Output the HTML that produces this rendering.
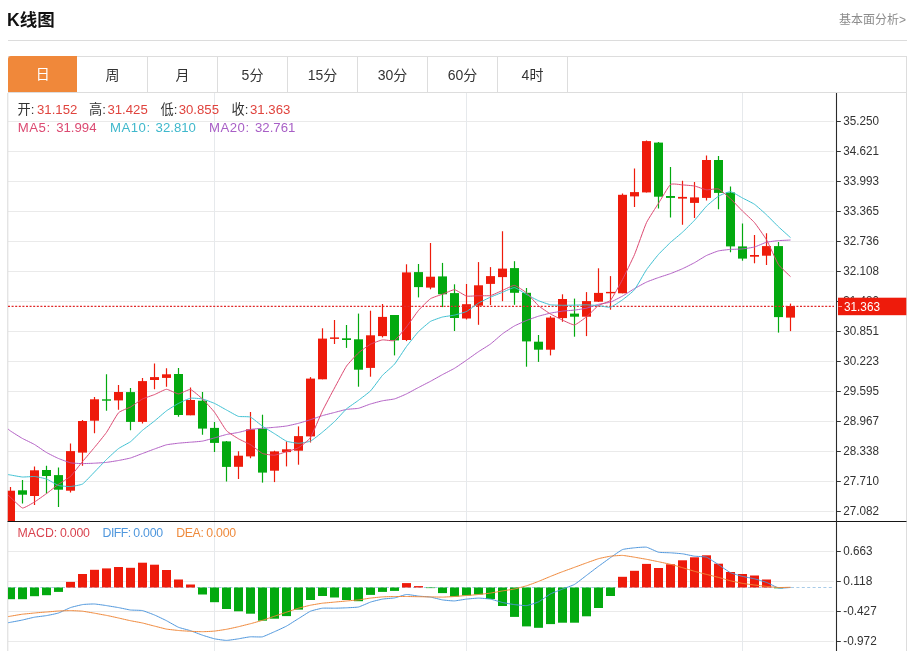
<!DOCTYPE html>
<html lang="zh-CN">
<head>
<meta charset="utf-8">
<title>K线图</title>
<style>
html,body{margin:0;padding:0;background:#fff;}
body{width:911px;height:651px;position:relative;overflow:hidden;font-family:"Liberation Sans","Noto Sans CJK SC",sans-serif;color:#333;}
.title{position:absolute;left:7px;top:6.8px;font-size:17.5px;font-weight:bold;color:#111;line-height:26px;white-space:nowrap;}
.more{position:absolute;right:5px;top:11.6px;font-size:12px;color:#8c8c8c;line-height:16px;white-space:nowrap;}
.hr{position:absolute;left:8px;top:40px;width:899px;height:1px;background:#dcdcdc;}
.tabs{position:absolute;left:8px;top:56px;width:898px;height:35px;border:1px solid #dddddd;border-left:none;box-sizing:content-box;}
.tab{position:absolute;top:0;height:35px;width:69px;border-right:1px solid #dddddd;text-align:center;font-size:14px;line-height:36.4px;color:#333;}
.tab.on{background:#f0883a;color:#fff;border-right:none;border-radius:3px 0 0 0;top:-0.6px;left:-0.3px;height:35.3px;width:69.4px;line-height:37.4px;}
.chart{position:absolute;left:0;top:0;}
.t{position:absolute;white-space:nowrap;font-size:13.2px;line-height:16px;}
.l{letter-spacing:0.5px}
.s{font-size:12.3px}
.n{letter-spacing:-0.22px}
.k{color:#333}.r{color:#e0443e}
.m5{color:#dc4a72}.m10{color:#3fb8cc}.m20{color:#a85fc6}
.c1{color:#d9434f}.c2{color:#4f97dd}.c3{color:#ee8a3c}
</style>
</head>
<body>
<div class="title">K线图</div>
<div class="more">基本面分析&gt;</div>
<div class="hr"></div>
<div class="tabs">
<div class="tab on" style="left:0">日</div>
<div class="tab" style="left:70px">周</div>
<div class="tab" style="left:140px">月</div>
<div class="tab" style="left:210px">5分</div>
<div class="tab" style="left:280px">15分</div>
<div class="tab" style="left:350px">30分</div>
<div class="tab" style="left:420px">60分</div>
<div class="tab" style="left:490px">4时</div>
</div>
<svg class="chart" width="911" height="651" viewBox="0 0 911 651">
<defs><clipPath id="cp"><rect x="7.8" y="93" width="828.2" height="428"/></clipPath><clipPath id="cp2"><rect x="8" y="522" width="828" height="129"/></clipPath></defs>
<line x1="8" y1="121.5" x2="834" y2="121.5" stroke="#eaeaea" stroke-width="1"/>
<line x1="8" y1="151.5" x2="834" y2="151.5" stroke="#eaeaea" stroke-width="1"/>
<line x1="8" y1="181.5" x2="834" y2="181.5" stroke="#eaeaea" stroke-width="1"/>
<line x1="8" y1="211.5" x2="834" y2="211.5" stroke="#eaeaea" stroke-width="1"/>
<line x1="8" y1="241.5" x2="834" y2="241.5" stroke="#eaeaea" stroke-width="1"/>
<line x1="8" y1="271.5" x2="834" y2="271.5" stroke="#eaeaea" stroke-width="1"/>
<line x1="8" y1="301.5" x2="834" y2="301.5" stroke="#eaeaea" stroke-width="1"/>
<line x1="8" y1="331.5" x2="834" y2="331.5" stroke="#eaeaea" stroke-width="1"/>
<line x1="8" y1="361.5" x2="834" y2="361.5" stroke="#eaeaea" stroke-width="1"/>
<line x1="8" y1="391.5" x2="834" y2="391.5" stroke="#eaeaea" stroke-width="1"/>
<line x1="8" y1="421.5" x2="834" y2="421.5" stroke="#eaeaea" stroke-width="1"/>
<line x1="8" y1="451.5" x2="834" y2="451.5" stroke="#eaeaea" stroke-width="1"/>
<line x1="8" y1="481.5" x2="834" y2="481.5" stroke="#eaeaea" stroke-width="1"/>
<line x1="8" y1="511.5" x2="834" y2="511.5" stroke="#eaeaea" stroke-width="1"/>
<line x1="8" y1="551.5" x2="834" y2="551.5" stroke="#eaeaea" stroke-width="1"/>
<line x1="8" y1="581.5" x2="834" y2="581.5" stroke="#eaeaea" stroke-width="1"/>
<line x1="8" y1="611.5" x2="834" y2="611.5" stroke="#eaeaea" stroke-width="1"/>
<line x1="8" y1="641.5" x2="834" y2="641.5" stroke="#eaeaea" stroke-width="1"/>
<line x1="214.5" y1="93" x2="214.5" y2="651" stroke="#e6e9ec" stroke-width="1"/>
<line x1="466.5" y1="93" x2="466.5" y2="651" stroke="#e6e9ec" stroke-width="1"/>
<line x1="742.5" y1="93" x2="742.5" y2="651" stroke="#e6e9ec" stroke-width="1"/>
<line x1="7.8" y1="93" x2="7.8" y2="651" stroke="#d9d9d9" stroke-width="1"/>
<line x1="906.5" y1="93" x2="906.5" y2="651" stroke="#dddddd" stroke-width="1"/>
<g clip-path="url(#cp)">
<line x1="10.5" y1="487.1" x2="10.5" y2="521" stroke="#ee1b0b" stroke-width="1.2"/>
<rect x="6" y="490.7" width="9" height="30.3" fill="#ee1b0b"/>
<line x1="22.5" y1="480" x2="22.5" y2="503.6" stroke="#03a90f" stroke-width="1.2"/>
<rect x="18" y="490.3" width="9" height="4.4" fill="#03a90f"/>
<line x1="34.5" y1="466.4" x2="34.5" y2="505" stroke="#ee1b0b" stroke-width="1.2"/>
<rect x="30" y="470.3" width="9" height="25.7" fill="#ee1b0b"/>
<line x1="46.5" y1="465.7" x2="46.5" y2="493.6" stroke="#03a90f" stroke-width="1.2"/>
<rect x="42" y="470" width="9" height="6" fill="#03a90f"/>
<line x1="58.5" y1="467.6" x2="58.5" y2="507.1" stroke="#03a90f" stroke-width="1.2"/>
<rect x="54" y="475.1" width="9" height="14.6" fill="#03a90f"/>
<line x1="70.5" y1="443.6" x2="70.5" y2="492.6" stroke="#ee1b0b" stroke-width="1.2"/>
<rect x="66" y="451.1" width="9" height="39.6" fill="#ee1b0b"/>
<line x1="82.5" y1="420" x2="82.5" y2="465.7" stroke="#ee1b0b" stroke-width="1.2"/>
<rect x="78" y="421" width="9" height="31.6" fill="#ee1b0b"/>
<line x1="94.5" y1="397.1" x2="94.5" y2="433.3" stroke="#ee1b0b" stroke-width="1.2"/>
<rect x="90" y="399.3" width="9" height="21.4" fill="#ee1b0b"/>
<line x1="106.5" y1="374.3" x2="106.5" y2="410.7" stroke="#03a90f" stroke-width="1.2"/>
<rect x="102" y="399.3" width="9" height="1.4" fill="#03a90f"/>
<line x1="118.5" y1="385" x2="118.5" y2="409.7" stroke="#ee1b0b" stroke-width="1.2"/>
<rect x="114" y="392" width="9" height="8.4" fill="#ee1b0b"/>
<line x1="130.5" y1="388.1" x2="130.5" y2="430.3" stroke="#03a90f" stroke-width="1.2"/>
<rect x="126" y="392.1" width="9" height="29.8" fill="#03a90f"/>
<line x1="142.5" y1="377.9" x2="142.5" y2="423.6" stroke="#ee1b0b" stroke-width="1.2"/>
<rect x="138" y="381.1" width="9" height="40.8" fill="#ee1b0b"/>
<line x1="154.5" y1="363.6" x2="154.5" y2="389.3" stroke="#ee1b0b" stroke-width="1.2"/>
<rect x="150" y="377.1" width="9" height="2.9" fill="#ee1b0b"/>
<line x1="166.5" y1="368.3" x2="166.5" y2="386.7" stroke="#ee1b0b" stroke-width="1.2"/>
<rect x="162" y="374.3" width="9" height="3.6" fill="#ee1b0b"/>
<line x1="178.5" y1="367.9" x2="178.5" y2="416.7" stroke="#03a90f" stroke-width="1.2"/>
<rect x="174" y="374" width="9" height="41" fill="#03a90f"/>
<line x1="190.5" y1="387.6" x2="190.5" y2="415.3" stroke="#ee1b0b" stroke-width="1.2"/>
<rect x="186" y="400" width="9" height="15.3" fill="#ee1b0b"/>
<line x1="202.5" y1="392.1" x2="202.5" y2="434.7" stroke="#03a90f" stroke-width="1.2"/>
<rect x="198" y="400.7" width="9" height="27.9" fill="#03a90f"/>
<line x1="214.5" y1="422.1" x2="214.5" y2="452.1" stroke="#03a90f" stroke-width="1.2"/>
<rect x="210" y="427.9" width="9" height="15" fill="#03a90f"/>
<line x1="226.5" y1="441" x2="226.5" y2="481.4" stroke="#03a90f" stroke-width="1.2"/>
<rect x="222" y="441.4" width="9" height="25.5" fill="#03a90f"/>
<line x1="238.5" y1="451.2" x2="238.5" y2="479" stroke="#ee1b0b" stroke-width="1.2"/>
<rect x="234" y="455.7" width="9" height="11.1" fill="#ee1b0b"/>
<line x1="250.5" y1="412.1" x2="250.5" y2="458.3" stroke="#ee1b0b" stroke-width="1.2"/>
<rect x="246" y="429.3" width="9" height="27.1" fill="#ee1b0b"/>
<line x1="262.5" y1="414.7" x2="262.5" y2="482.6" stroke="#03a90f" stroke-width="1.2"/>
<rect x="258" y="428.6" width="9" height="44" fill="#03a90f"/>
<line x1="274.5" y1="450.7" x2="274.5" y2="482.1" stroke="#ee1b0b" stroke-width="1.2"/>
<rect x="270" y="451.4" width="9" height="19.3" fill="#ee1b0b"/>
<line x1="286.5" y1="441.4" x2="286.5" y2="466.4" stroke="#ee1b0b" stroke-width="1.2"/>
<rect x="282" y="449.3" width="9" height="2.8" fill="#ee1b0b"/>
<line x1="298.5" y1="426.4" x2="298.5" y2="464.7" stroke="#ee1b0b" stroke-width="1.2"/>
<rect x="294" y="436.1" width="9" height="14.6" fill="#ee1b0b"/>
<line x1="310.5" y1="377.1" x2="310.5" y2="442.5" stroke="#ee1b0b" stroke-width="1.2"/>
<rect x="306" y="378.6" width="9" height="57.8" fill="#ee1b0b"/>
<line x1="322.5" y1="328.3" x2="322.5" y2="379.3" stroke="#ee1b0b" stroke-width="1.2"/>
<rect x="318" y="338.6" width="9" height="40.7" fill="#ee1b0b"/>
<line x1="334.5" y1="320" x2="334.5" y2="344" stroke="#ee1b0b" stroke-width="1.2"/>
<rect x="330" y="337.4" width="9" height="1.5" fill="#ee1b0b"/>
<line x1="346.5" y1="325" x2="346.5" y2="347.9" stroke="#03a90f" stroke-width="1.2"/>
<rect x="342" y="338.3" width="9" height="1.7" fill="#03a90f"/>
<line x1="358.5" y1="313.6" x2="358.5" y2="386.7" stroke="#03a90f" stroke-width="1.2"/>
<rect x="354" y="339.3" width="9" height="30.4" fill="#03a90f"/>
<line x1="370.5" y1="310.7" x2="370.5" y2="376.7" stroke="#ee1b0b" stroke-width="1.2"/>
<rect x="366" y="335.3" width="9" height="32.6" fill="#ee1b0b"/>
<line x1="382.5" y1="304" x2="382.5" y2="337.4" stroke="#ee1b0b" stroke-width="1.2"/>
<rect x="378" y="316.9" width="9" height="19.2" fill="#ee1b0b"/>
<line x1="394.5" y1="315" x2="394.5" y2="355.4" stroke="#03a90f" stroke-width="1.2"/>
<rect x="390" y="315" width="9" height="25.4" fill="#03a90f"/>
<line x1="406.5" y1="264.3" x2="406.5" y2="341.1" stroke="#ee1b0b" stroke-width="1.2"/>
<rect x="402" y="272.4" width="9" height="67.6" fill="#ee1b0b"/>
<line x1="418.5" y1="264" x2="418.5" y2="297.4" stroke="#03a90f" stroke-width="1.2"/>
<rect x="414" y="272.1" width="9" height="15" fill="#03a90f"/>
<line x1="430.5" y1="242.9" x2="430.5" y2="289.3" stroke="#ee1b0b" stroke-width="1.2"/>
<rect x="426" y="276.7" width="9" height="10.9" fill="#ee1b0b"/>
<line x1="442.5" y1="262.9" x2="442.5" y2="307.1" stroke="#03a90f" stroke-width="1.2"/>
<rect x="438" y="276.4" width="9" height="17.9" fill="#03a90f"/>
<line x1="454.5" y1="284.3" x2="454.5" y2="331" stroke="#03a90f" stroke-width="1.2"/>
<rect x="450" y="293.1" width="9" height="24.9" fill="#03a90f"/>
<line x1="466.5" y1="284" x2="466.5" y2="319.5" stroke="#ee1b0b" stroke-width="1.2"/>
<rect x="462" y="304.2" width="9" height="14.3" fill="#ee1b0b"/>
<line x1="478.5" y1="262.1" x2="478.5" y2="324.8" stroke="#ee1b0b" stroke-width="1.2"/>
<rect x="474" y="285.3" width="9" height="20.4" fill="#ee1b0b"/>
<line x1="490.5" y1="267.1" x2="490.5" y2="305" stroke="#ee1b0b" stroke-width="1.2"/>
<rect x="486" y="276.1" width="9" height="7.8" fill="#ee1b0b"/>
<line x1="502.5" y1="231.3" x2="502.5" y2="301.2" stroke="#ee1b0b" stroke-width="1.2"/>
<rect x="498" y="268.6" width="9" height="8.5" fill="#ee1b0b"/>
<line x1="514.5" y1="261.2" x2="514.5" y2="304.8" stroke="#03a90f" stroke-width="1.2"/>
<rect x="510" y="268.1" width="9" height="24.7" fill="#03a90f"/>
<line x1="526.5" y1="288" x2="526.5" y2="366.7" stroke="#03a90f" stroke-width="1.2"/>
<rect x="522" y="292.8" width="9" height="48.6" fill="#03a90f"/>
<line x1="538.5" y1="335" x2="538.5" y2="361.9" stroke="#03a90f" stroke-width="1.2"/>
<rect x="534" y="341.7" width="9" height="8" fill="#03a90f"/>
<line x1="550.5" y1="316.1" x2="550.5" y2="355.4" stroke="#ee1b0b" stroke-width="1.2"/>
<rect x="546" y="317.6" width="9" height="32.1" fill="#ee1b0b"/>
<line x1="562.5" y1="294.3" x2="562.5" y2="321.8" stroke="#ee1b0b" stroke-width="1.2"/>
<rect x="558" y="299" width="9" height="19.1" fill="#ee1b0b"/>
<line x1="574.5" y1="298.6" x2="574.5" y2="336.7" stroke="#03a90f" stroke-width="1.2"/>
<rect x="570" y="313.6" width="9" height="3.1" fill="#03a90f"/>
<line x1="586.5" y1="292.1" x2="586.5" y2="336.1" stroke="#ee1b0b" stroke-width="1.2"/>
<rect x="582" y="301.1" width="9" height="15.6" fill="#ee1b0b"/>
<line x1="598.5" y1="268.3" x2="598.5" y2="302" stroke="#ee1b0b" stroke-width="1.2"/>
<rect x="594" y="292.9" width="9" height="8.8" fill="#ee1b0b"/>
<line x1="610.5" y1="276.1" x2="610.5" y2="309.7" stroke="#ee1b0b" stroke-width="1.2"/>
<rect x="606" y="291.9" width="9" height="1.4" fill="#ee1b0b"/>
<line x1="622.5" y1="193.6" x2="622.5" y2="293.3" stroke="#ee1b0b" stroke-width="1.2"/>
<rect x="618" y="194.8" width="9" height="98.5" fill="#ee1b0b"/>
<line x1="634.5" y1="168.6" x2="634.5" y2="206.9" stroke="#ee1b0b" stroke-width="1.2"/>
<rect x="630" y="192.1" width="9" height="4.3" fill="#ee1b0b"/>
<line x1="646.5" y1="140.4" x2="646.5" y2="192.4" stroke="#ee1b0b" stroke-width="1.2"/>
<rect x="642" y="141.1" width="9" height="51.3" fill="#ee1b0b"/>
<line x1="658.5" y1="141.9" x2="658.5" y2="208.6" stroke="#03a90f" stroke-width="1.2"/>
<rect x="654" y="142.6" width="9" height="54.1" fill="#03a90f"/>
<line x1="670.5" y1="166.9" x2="670.5" y2="217.4" stroke="#03a90f" stroke-width="1.2"/>
<rect x="666" y="196" width="9" height="1.9" fill="#03a90f"/>
<line x1="682.5" y1="180.7" x2="682.5" y2="224.7" stroke="#ee1b0b" stroke-width="1.2"/>
<rect x="678" y="196.9" width="9" height="1.7" fill="#ee1b0b"/>
<line x1="694.5" y1="182.1" x2="694.5" y2="218.1" stroke="#ee1b0b" stroke-width="1.2"/>
<rect x="690" y="197.4" width="9" height="5.5" fill="#ee1b0b"/>
<line x1="706.5" y1="155.4" x2="706.5" y2="200.4" stroke="#ee1b0b" stroke-width="1.2"/>
<rect x="702" y="160" width="9" height="37.9" fill="#ee1b0b"/>
<line x1="718.5" y1="156.1" x2="718.5" y2="209.3" stroke="#03a90f" stroke-width="1.2"/>
<rect x="714" y="160" width="9" height="32.9" fill="#03a90f"/>
<line x1="730.5" y1="186.4" x2="730.5" y2="252.3" stroke="#03a90f" stroke-width="1.2"/>
<rect x="726" y="192.5" width="9" height="53.9" fill="#03a90f"/>
<line x1="742.5" y1="223.6" x2="742.5" y2="260.7" stroke="#03a90f" stroke-width="1.2"/>
<rect x="738" y="246.4" width="9" height="12.2" fill="#03a90f"/>
<line x1="754.5" y1="235" x2="754.5" y2="263.3" stroke="#ee1b0b" stroke-width="1.2"/>
<rect x="750" y="255" width="9" height="1.7" fill="#ee1b0b"/>
<line x1="766.5" y1="233.2" x2="766.5" y2="265" stroke="#ee1b0b" stroke-width="1.2"/>
<rect x="762" y="246.1" width="9" height="9.6" fill="#ee1b0b"/>
<line x1="778.5" y1="242.1" x2="778.5" y2="332.6" stroke="#03a90f" stroke-width="1.2"/>
<rect x="774" y="246.1" width="9" height="71" fill="#03a90f"/>
<line x1="790.5" y1="303.6" x2="790.5" y2="331.1" stroke="#ee1b0b" stroke-width="1.2"/>
<rect x="786" y="306" width="9" height="11.6" fill="#ee1b0b"/>
</g>
<line x1="8" y1="306.4" x2="834" y2="306.4" stroke="#e02a2a" stroke-width="1.1" stroke-dasharray="2 1.6"/>
<g clip-path="url(#cp)" fill="none" stroke-width="1" stroke-linejoin="round">
<path d="M8 429C8.2 429.1 9.5 430.3 10.5 431C11.5 431.7 20.8 437.6 22.5 438.5C24.2 439.4 32.8 443.5 34.5 444.5C36.2 445.5 44.8 451.5 46.5 452.5C48.2 453.5 56.8 457.8 58.5 458.5C60.2 459.2 68.8 462.4 70.5 462.8C72.2 463.2 80.8 463.6 82.5 463.6C84.2 463.6 92.8 463.3 94.5 463.2C96.2 463.1 104.8 462.6 106.5 462.4C108.2 462.2 116.8 460.8 118.5 460.5C120.2 460.2 128.8 458.5 130.5 458C132.2 457.5 140.8 454.1 142.5 453.5C144.2 452.9 152.8 449.6 154.5 449C156.2 448.4 164.8 445.2 166.5 444.8C168.2 444.4 176.8 443.4 178.5 443.2C180.2 443 188.8 442.3 190.5 442.2C192.2 442.1 200.8 441.4 202.5 441.1C204.2 440.8 212.8 438.4 214.5 437.9C216.2 437.4 224.8 434.9 226.5 434.5C228.2 434.1 236.8 432.8 238.5 432.4C240.2 432.1 248.8 429.7 250.5 429.4C252.2 429.1 260.8 428.4 262.5 428.3C264.2 428.1 272.8 427.5 274.5 427.3C276.2 427.2 284.8 426.3 286.5 426C288.2 425.7 296.8 423.8 298.5 423.3C300.2 422.9 308.8 420.2 310.5 419.7C312.2 419.1 320.8 416.1 322.5 415.6C324.2 415.1 332.8 412.9 334.5 412.5C336.2 412 344.8 409.7 346.5 409.4C348.2 409.1 356.8 408.7 358.5 408.3C360.2 407.9 368.8 404.5 370.5 404C372.2 403.5 380.8 401.1 382.5 400.8C384.2 400.4 392.8 399.4 394.5 398.9C396.2 398.5 404.8 394.7 406.5 393.9C408.2 393.1 416.8 388.3 418.5 387.5C420.2 386.6 428.8 382.2 430.5 381.3C432.2 380.4 440.8 375.5 442.5 374.6C444.2 373.7 452.8 369.3 454.5 368.3C456.2 367.3 464.8 361.4 466.5 360.2C468.2 359 476.8 352.8 478.5 351.7C480.2 350.5 488.8 345.3 490.5 344C492.2 342.8 500.8 335.1 502.5 333.8C504.2 332.6 512.8 326.8 514.5 325.9C516.2 325 524.8 321.2 526.5 320.5C528.2 319.8 536.8 316.7 538.5 316.2C540.2 315.7 548.8 313.5 550.5 313.1C552.2 312.8 560.8 311.4 562.5 311.1C564.2 310.9 572.8 310.3 574.5 310.1C576.2 309.9 584.8 308.6 586.5 308.2C588.2 307.8 596.8 304.7 598.5 304.3C600.2 303.9 608.8 302.7 610.5 302.2C612.2 301.6 620.8 297 622.5 296.1C624.2 295.1 632.8 289.6 634.5 288.6C636.2 287.7 644.8 282.8 646.5 282.1C648.2 281.3 656.8 278.1 658.5 277.6C660.2 277 668.8 274.2 670.5 273.6C672.2 273 680.8 269.5 682.5 268.7C684.2 268 692.8 263.6 694.5 262.7C696.2 261.8 704.8 256.3 706.5 255.5C708.2 254.7 716.8 251.3 718.5 250.9C720.2 250.5 728.8 249.5 730.5 249.4C732.2 249.3 740.8 249.1 742.5 248.9C744.2 248.7 752.8 247.5 754.5 247C756.2 246.5 764.8 242.7 766.5 242.2C768.2 241.8 776.8 240.8 778.5 240.6C780.2 240.5 789.7 240.1 790.5 240" stroke="#b25fc4"/>
<path d="M8 474.6C8.2 474.6 9.5 474.8 10.5 475C11.5 475.2 20.8 476.9 22.5 477C24.2 477.1 32.8 476.4 34.5 476.5C36.2 476.6 44.8 478.4 46.5 479C48.2 479.6 56.8 485 58.5 485.5C60.2 486 68.8 486.6 70.5 486.5C72.2 486.4 80.8 485 82.5 484C84.2 483 92.8 473.7 94.5 472C96.2 470.3 104.8 461.1 106.5 459.5C108.2 457.9 116.8 449.8 118.5 448.6C120.2 447.3 128.8 442.9 130.5 441.7C132.2 440.4 140.8 431.8 142.5 430.3C144.2 428.9 152.8 422.4 154.5 421C156.2 419.6 164.8 412.1 166.5 410.8C168.2 409.6 176.8 404.2 178.5 403.4C180.2 402.5 188.8 398.5 190.5 398.2C192.2 397.9 200.8 398.6 202.5 399C204.2 399.4 212.8 402.6 214.5 403.4C216.2 404.1 224.8 409.1 226.5 410C228.2 410.9 236.8 415.9 238.5 416.4C240.2 416.8 248.8 416.4 250.5 417.1C252.2 417.8 260.8 425.1 262.5 426.2C264.2 427.4 272.8 432.6 274.5 433.7C276.2 434.7 284.8 440.5 286.5 441.2C288.2 441.8 296.8 443.3 298.5 443.3C300.2 443.3 308.8 441.9 310.5 441.1C312.2 440.4 320.8 433.5 322.5 432.1C324.2 430.8 332.8 423.2 334.5 421.6C336.2 420 344.8 410.4 346.5 408.9C348.2 407.4 356.8 401.6 358.5 400.3C360.2 399 368.8 392.6 370.5 390.9C372.2 389.2 380.8 377.2 382.5 375.3C384.2 373.5 392.8 366.2 394.5 364.2C396.2 362.2 404.8 348.8 406.5 346.5C408.2 344.3 416.8 333.4 418.5 331.6C420.2 329.9 428.8 322.5 430.5 321.4C432.2 320.4 440.8 317.5 442.5 317C444.2 316.6 452.8 315.5 454.5 315.1C456.2 314.7 464.8 312.3 466.5 311.5C468.2 310.7 476.8 304.1 478.5 303.1C480.2 302.1 488.8 297.9 490.5 297.1C492.2 296.4 500.8 293 502.5 292.3C504.2 291.6 512.8 287.4 514.5 287.6C516.2 287.7 524.8 293.5 526.5 294.4C528.2 295.4 536.8 300 538.5 300.7C540.2 301.4 548.8 304.5 550.5 304.8C552.2 305.1 560.8 305.2 562.5 305.3C564.2 305.3 572.8 305.2 574.5 305.1C576.2 305.1 584.8 304.8 586.5 304.8C588.2 304.9 596.8 305.4 598.5 305.6C600.2 305.8 608.8 307.6 610.5 307.2C612.2 306.8 620.8 301 622.5 299.8C624.2 298.6 632.8 291.8 634.5 289.7C636.2 287.6 644.8 272.2 646.5 269.7C648.2 267.2 656.8 256.3 658.5 254.4C660.2 252.5 668.8 244 670.5 242.4C672.2 240.9 680.8 233.8 682.5 232.2C684.2 230.7 692.8 222.1 694.5 220.3C696.2 218.5 704.8 207.9 706.5 206.2C708.2 204.5 716.8 197.2 718.5 196.2C720.2 195.2 728.8 191.5 730.5 191.6C732.2 191.7 740.8 197.1 742.5 198C744.2 198.9 752.8 203.1 754.5 204.3C756.2 205.5 764.8 213.2 766.5 214.8C768.2 216.4 776.8 225.2 778.5 226.8C780.2 228.4 789.7 236.9 790.5 237.6" stroke="#3fc0d2"/>
<path d="M8 495C8.2 495.2 9.5 496.4 10.5 497.3C11.5 498.2 20.8 507.7 22.5 508C24.2 508.3 32.8 503 34.5 502C36.2 501 44.8 494.8 46.5 493.6C48.2 492.4 56.8 485.5 58.5 484.3C60.2 483.1 68.8 477.9 70.5 476.4C72.2 474.8 80.8 463.6 82.5 461.6C84.2 459.6 92.8 449.5 94.5 447.4C96.2 445.4 104.8 434.8 106.5 432.4C108.2 429.9 116.8 414.6 118.5 412.8C120.2 411 128.8 407.9 130.5 407C132.2 406 140.8 399.9 142.5 399C144.2 398.1 152.8 395.2 154.5 394.6C156.2 393.9 164.8 389.3 166.5 389.3C168.2 389.2 176.8 393.9 178.5 393.9C180.2 393.9 188.8 389.1 190.5 389.5C192.2 389.9 200.8 397.4 202.5 399C204.2 400.6 212.8 409.9 214.5 412.2C216.2 414.4 224.8 428.8 226.5 430.7C228.2 432.5 236.8 437.8 238.5 438.8C240.2 439.8 248.8 443.7 250.5 444.7C252.2 445.7 260.8 452.7 262.5 453.5C264.2 454.2 272.8 455.3 274.5 455.2C276.2 455.1 284.8 452.2 286.5 451.7C288.2 451.1 296.8 448.7 298.5 447.7C300.2 446.8 308.8 440.2 310.5 437.6C312.2 435 320.8 414.3 322.5 410.8C324.2 407.3 332.8 391.1 334.5 388C336.2 384.9 344.8 368.6 346.5 366.1C348.2 363.7 356.8 354.4 358.5 352.9C360.2 351.3 368.8 345.1 370.5 344.2C372.2 343.3 380.8 340.1 382.5 339.9C384.2 339.6 392.8 341.4 394.5 340.5C396.2 339.6 404.8 329 406.5 326.9C408.2 324.8 416.8 312.4 418.5 310.4C420.2 308.4 428.8 299.8 430.5 298.7C432.2 297.6 440.8 294.8 442.5 294.2C444.2 293.6 452.8 289.6 454.5 289.7C456.2 289.8 464.8 295.6 466.5 296.1C468.2 296.5 476.8 295.7 478.5 295.7C480.2 295.7 488.8 295.9 490.5 295.6C492.2 295.2 500.8 291.2 502.5 290.4C504.2 289.7 512.8 285.2 514.5 285.4C516.2 285.6 524.8 291.4 526.5 292.8C528.2 294.3 536.8 304.2 538.5 305.7C540.2 307.2 548.8 313 550.5 314C552.2 315 560.8 319.3 562.5 320.1C564.2 320.9 572.8 325.1 574.5 324.9C576.2 324.7 584.8 318.2 586.5 316.8C588.2 315.5 596.8 306.6 598.5 305.5C600.2 304.3 608.8 302.1 610.5 300.3C612.2 298.5 620.8 282.7 622.5 279.5C624.2 276.3 632.8 258.5 634.5 254.6C636.2 250.6 644.8 226.1 646.5 222.6C648.2 219 656.8 206 658.5 203.3C660.2 200.7 668.8 185.8 670.5 184.5C672.2 183.2 680.8 184.8 682.5 184.9C684.2 185 692.8 185.7 694.5 186C696.2 186.3 704.8 189.6 706.5 189.8C708.2 190 716.8 188.4 718.5 189C720.2 189.6 728.8 197.2 730.5 198.7C732.2 200.3 740.8 209.4 742.5 211.1C744.2 212.7 752.8 220.6 754.5 222.6C756.2 224.6 764.8 236.9 766.5 239.8C768.2 242.7 776.8 262.1 778.5 264.6C780.2 267.2 789.7 275.7 790.5 276.6" stroke="#dc4a72"/>
</g>
<line x1="8" y1="587.5" x2="833.5" y2="587.5" stroke="#a8cbe8" stroke-width="1" stroke-dasharray="3 2.4"/>
<g clip-path="url(#cp2)">
<rect x="6" y="587.5" width="9" height="11.7" fill="#03a90f"/>
<rect x="18" y="587.5" width="9" height="11.7" fill="#03a90f"/>
<rect x="30" y="587.5" width="9" height="8.7" fill="#03a90f"/>
<rect x="42" y="587.5" width="9" height="7.7" fill="#03a90f"/>
<rect x="54" y="587.5" width="9" height="4.4" fill="#03a90f"/>
<rect x="66" y="581.9" width="9" height="5.6" fill="#ee1b0b"/>
<rect x="78" y="574" width="9" height="13.5" fill="#ee1b0b"/>
<rect x="90" y="569.8" width="9" height="17.7" fill="#ee1b0b"/>
<rect x="102" y="568.4" width="9" height="19.1" fill="#ee1b0b"/>
<rect x="114" y="567" width="9" height="20.5" fill="#ee1b0b"/>
<rect x="126" y="567.8" width="9" height="19.7" fill="#ee1b0b"/>
<rect x="138" y="562.7" width="9" height="24.8" fill="#ee1b0b"/>
<rect x="150" y="564.7" width="9" height="22.8" fill="#ee1b0b"/>
<rect x="162" y="570" width="9" height="17.5" fill="#ee1b0b"/>
<rect x="174" y="579.5" width="9" height="8" fill="#ee1b0b"/>
<rect x="186" y="584.5" width="9" height="3" fill="#ee1b0b"/>
<rect x="198" y="587.5" width="9" height="7" fill="#03a90f"/>
<rect x="210" y="587.5" width="9" height="14.7" fill="#03a90f"/>
<rect x="222" y="587.5" width="9" height="21.5" fill="#03a90f"/>
<rect x="234" y="587.5" width="9" height="23.8" fill="#03a90f"/>
<rect x="246" y="587.5" width="9" height="26.2" fill="#03a90f"/>
<rect x="258" y="587.5" width="9" height="33.2" fill="#03a90f"/>
<rect x="270" y="587.5" width="9" height="31.2" fill="#03a90f"/>
<rect x="282" y="587.5" width="9" height="28.6" fill="#03a90f"/>
<rect x="294" y="587.5" width="9" height="22.1" fill="#03a90f"/>
<rect x="306" y="587.5" width="9" height="12.5" fill="#03a90f"/>
<rect x="318" y="587.5" width="9" height="8.5" fill="#03a90f"/>
<rect x="330" y="587.5" width="9" height="10" fill="#03a90f"/>
<rect x="342" y="587.5" width="9" height="12.5" fill="#03a90f"/>
<rect x="354" y="587.5" width="9" height="13.7" fill="#03a90f"/>
<rect x="366" y="587.5" width="9" height="7.4" fill="#03a90f"/>
<rect x="378" y="587.5" width="9" height="4.4" fill="#03a90f"/>
<rect x="390" y="587.5" width="9" height="3.4" fill="#03a90f"/>
<rect x="402" y="583.1" width="9" height="4.4" fill="#ee1b0b"/>
<rect x="414" y="586.1" width="9" height="1.4" fill="#ee1b0b"/>
<rect x="426" y="587.5" width="9" height="0.6" fill="#03a90f"/>
<rect x="438" y="587.5" width="9" height="5.6" fill="#03a90f"/>
<rect x="450" y="587.5" width="9" height="9" fill="#03a90f"/>
<rect x="462" y="587.5" width="9" height="8" fill="#03a90f"/>
<rect x="474" y="587.5" width="9" height="7" fill="#03a90f"/>
<rect x="486" y="587.5" width="9" height="11.5" fill="#03a90f"/>
<rect x="498" y="587.5" width="9" height="18.5" fill="#03a90f"/>
<rect x="510" y="587.5" width="9" height="29.4" fill="#03a90f"/>
<rect x="522" y="587.5" width="9" height="38.9" fill="#03a90f"/>
<rect x="534" y="587.5" width="9" height="40.3" fill="#03a90f"/>
<rect x="546" y="587.5" width="9" height="36.6" fill="#03a90f"/>
<rect x="558" y="587.5" width="9" height="35.2" fill="#03a90f"/>
<rect x="570" y="587.5" width="9" height="35.2" fill="#03a90f"/>
<rect x="582" y="587.5" width="9" height="28.8" fill="#03a90f"/>
<rect x="594" y="587.5" width="9" height="20.5" fill="#03a90f"/>
<rect x="606" y="587.5" width="9" height="8.5" fill="#03a90f"/>
<rect x="618" y="576.8" width="9" height="10.7" fill="#ee1b0b"/>
<rect x="630" y="570.8" width="9" height="16.7" fill="#ee1b0b"/>
<rect x="642" y="563.9" width="9" height="23.6" fill="#ee1b0b"/>
<rect x="654" y="568" width="9" height="19.5" fill="#ee1b0b"/>
<rect x="666" y="564.3" width="9" height="23.2" fill="#ee1b0b"/>
<rect x="678" y="560.3" width="9" height="27.2" fill="#ee1b0b"/>
<rect x="690" y="557.3" width="9" height="30.2" fill="#ee1b0b"/>
<rect x="702" y="555.3" width="9" height="32.2" fill="#ee1b0b"/>
<rect x="714" y="563.7" width="9" height="23.8" fill="#ee1b0b"/>
<rect x="726" y="572" width="9" height="15.5" fill="#ee1b0b"/>
<rect x="738" y="574" width="9" height="13.5" fill="#ee1b0b"/>
<rect x="750" y="575.5" width="9" height="12" fill="#ee1b0b"/>
<rect x="762" y="579.5" width="9" height="8" fill="#ee1b0b"/>
<rect x="774" y="587.5" width="9" height="0.8" fill="#03a90f"/>
</g>
<g clip-path="url(#cp2)" fill="none" stroke-width="1" stroke-linejoin="round">
<path d="M8 622.7C8.2 622.7 9.5 622.5 10.5 622.3C11.5 622.1 20.8 620.4 22.5 620C24.2 619.6 32.8 617.5 34.5 617.2C36.2 616.9 44.8 615.9 46.5 615.6C48.2 615.3 56.8 613.6 58.5 613C60.2 612.4 68.8 608.2 70.5 607.6C72.2 607 80.8 604.9 82.5 604.6C84.2 604.3 92.8 603.9 94.5 604C96.2 604.1 104.8 605.3 106.5 605.6C108.2 605.9 116.8 607.3 118.5 607.6C120.2 607.9 128.8 609.8 130.5 610C132.2 610.2 140.8 610.2 142.5 610.6C144.2 611 152.8 614.3 154.5 615C156.2 615.7 164.8 619.8 166.5 620.7C168.2 621.6 176.8 626.6 178.5 627.3C180.2 628 188.8 630.1 190.5 630.7C192.2 631.3 200.8 634.6 202.5 635.2C204.2 635.8 212.8 638.4 214.5 638.8C216.2 639.2 224.8 640.4 226.5 640.4C228.2 640.4 236.8 639.1 238.5 638.8C240.2 638.5 248.8 636.9 250.5 636.8C252.2 636.7 260.8 637.2 262.5 636.8C264.2 636.4 272.8 632.4 274.5 631.7C276.2 631 284.8 627 286.5 626.1C288.2 625.2 296.8 619.6 298.5 618.6C300.2 617.6 308.8 611.9 310.5 611.2C312.2 610.5 320.8 608.4 322.5 608.2C324.2 608 332.8 608.2 334.5 608.2C336.2 608.2 344.8 607.9 346.5 607.8C348.2 607.7 356.8 607.4 358.5 607C360.2 606.6 368.8 602.7 370.5 602.1C372.2 601.5 380.8 599.4 382.5 599.1C384.2 598.8 392.8 598.2 394.5 597.9C396.2 597.6 404.8 594.6 406.5 594.5C408.2 594.4 416.8 595.9 418.5 596.1C420.2 596.3 428.8 596.8 430.5 597.1C432.2 597.4 440.8 599.6 442.5 599.9C444.2 600.2 452.8 601 454.5 600.9C456.2 600.8 464.8 599.3 466.5 599.1C468.2 598.9 476.8 598.1 478.5 598.1C480.2 598.1 488.8 598.8 490.5 599.1C492.2 599.4 500.8 602.1 502.5 602.5C504.2 602.9 512.8 604.4 514.5 604.6C516.2 604.8 524.8 605.8 526.5 605.6C528.2 605.4 536.8 602.7 538.5 601.9C540.2 601.1 548.8 594.8 550.5 593.9C552.2 593 560.8 589.8 562.5 589.1C564.2 588.4 572.8 585.4 574.5 584.4C576.2 583.4 584.8 576.7 586.5 575.4C588.2 574.1 596.8 567.5 598.5 566.3C600.2 565.1 608.8 558.8 610.5 557.6C612.2 556.4 620.8 550.3 622.5 549.6C624.2 548.9 632.8 548 634.5 547.8C636.2 547.6 644.8 546.9 646.5 547.2C648.2 547.5 656.8 551.8 658.5 552.2C660.2 552.6 668.8 552.7 670.5 552.8C672.2 552.9 680.8 553.6 682.5 553.8C684.2 554 692.8 556 694.5 556.2C696.2 556.4 704.8 556.6 706.5 557.2C708.2 557.8 716.8 563.6 718.5 564.7C720.2 565.8 728.8 571.9 730.5 572.7C732.2 573.5 740.8 576 742.5 576.4C744.2 576.8 752.8 578.4 754.5 578.8C756.2 579.2 764.8 581.8 766.5 582.4C768.2 583 776.8 587.6 778.5 588C780.2 588.4 789.7 587.5 790.5 587.5" stroke="#4f97dd"/>
<path d="M8 616.6C8.2 616.6 9.5 616.4 10.5 616.2C11.5 616 20.8 614.4 22.5 614.2C24.2 614 32.8 613.2 34.5 613C36.2 612.8 44.8 612.1 46.5 612C48.2 611.9 56.8 611.1 58.5 611C60.2 610.9 68.8 610.6 70.5 610.6C72.2 610.6 80.8 611 82.5 611.2C84.2 611.4 92.8 612.9 94.5 613.2C96.2 613.5 104.8 615.1 106.5 615.4C108.2 615.7 116.8 617.6 118.5 618C120.2 618.4 128.8 620.4 130.5 620.7C132.2 621.1 140.8 622.6 142.5 623C144.2 623.4 152.8 625.7 154.5 626.1C156.2 626.5 164.8 628.8 166.5 629.1C168.2 629.4 176.8 630.3 178.5 630.5C180.2 630.7 188.8 631.2 190.5 631.3C192.2 631.4 200.8 631.7 202.5 631.7C204.2 631.7 212.8 631.3 214.5 631.1C216.2 630.9 224.8 629.6 226.5 629.3C228.2 629 236.8 627.1 238.5 626.7C240.2 626.3 248.8 624.1 250.5 623.7C252.2 623.3 260.8 620.8 262.5 620.3C264.2 619.8 272.8 616.8 274.5 616.2C276.2 615.6 284.8 612.8 286.5 612.2C288.2 611.6 296.8 608.7 298.5 608.2C300.2 607.7 308.8 605.6 310.5 605.2C312.2 604.9 320.8 603.4 322.5 603.2C324.2 603 332.8 602.3 334.5 602.1C336.2 601.9 344.8 601.2 346.5 601C348.2 600.8 356.8 600.1 358.5 599.9C360.2 599.7 368.8 598.3 370.5 598.1C372.2 597.9 380.8 597 382.5 596.9C384.2 596.8 392.8 596.5 394.5 596.5C396.2 596.5 404.8 596.5 406.5 596.5C408.2 596.5 416.8 596.7 418.5 596.7C420.2 596.7 428.8 596.9 430.5 596.9C432.2 596.9 440.8 597.1 442.5 597.1C444.2 597.1 452.8 596.6 454.5 596.5C456.2 596.4 464.8 595.6 466.5 595.5C468.2 595.4 476.8 594.7 478.5 594.5C480.2 594.3 488.8 593.4 490.5 593.1C492.2 592.8 500.8 591.2 502.5 590.9C504.2 590.6 512.8 589.4 514.5 589C516.2 588.6 524.8 586.3 526.5 585.8C528.2 585.3 536.8 582.1 538.5 581.4C540.2 580.7 548.8 577.1 550.5 576.4C552.2 575.7 560.8 572.3 562.5 571.7C564.2 571.1 572.8 567.9 574.5 567.3C576.2 566.7 584.8 563.5 586.5 562.9C588.2 562.3 596.8 559.2 598.5 558.7C600.2 558.2 608.8 556.4 610.5 556.2C612.2 556 620.8 555.3 622.5 555.4C624.2 555.5 632.8 556.9 634.5 557.2C636.2 557.5 644.8 559 646.5 559.3C648.2 559.6 656.8 561.4 658.5 561.7C660.2 562.1 668.8 563.9 670.5 564.3C672.2 564.7 680.8 567.2 682.5 567.7C684.2 568.2 692.8 570.8 694.5 571.3C696.2 571.8 704.8 574 706.5 574.4C708.2 574.8 716.8 577 718.5 577.4C720.2 577.8 728.8 580.4 730.5 580.8C732.2 581.2 740.8 583.1 742.5 583.4C744.2 583.7 752.8 584.8 754.5 585C756.2 585.2 764.8 586.2 766.5 586.4C768.2 586.6 776.8 587.4 778.5 587.5C780.2 587.6 789.7 587.3 790.5 587.3" stroke="#f0883a"/>
</g>
<line x1="7.5" y1="521.45" x2="906.5" y2="521.45" stroke="#161616" stroke-width="1.1"/>
<line x1="836.5" y1="93" x2="836.5" y2="651" stroke="#2b2b2b" stroke-width="1.1"/>
<g font-family="'Liberation Sans', sans-serif" font-size="12.3" fill="#333">
<line x1="837" y1="121.5" x2="840.8" y2="121.5" stroke="#333" stroke-width="1"/>
<text x="843.3" y="125.4" textLength="35.7" lengthAdjust="spacingAndGlyphs">35.250</text>
<line x1="837" y1="151.5" x2="840.8" y2="151.5" stroke="#333" stroke-width="1"/>
<text x="843.3" y="155.4" textLength="35.7" lengthAdjust="spacingAndGlyphs">34.621</text>
<line x1="837" y1="181.5" x2="840.8" y2="181.5" stroke="#333" stroke-width="1"/>
<text x="843.3" y="185.4" textLength="35.7" lengthAdjust="spacingAndGlyphs">33.993</text>
<line x1="837" y1="211.5" x2="840.8" y2="211.5" stroke="#333" stroke-width="1"/>
<text x="843.3" y="215.4" textLength="35.7" lengthAdjust="spacingAndGlyphs">33.365</text>
<line x1="837" y1="241.5" x2="840.8" y2="241.5" stroke="#333" stroke-width="1"/>
<text x="843.3" y="245.4" textLength="35.7" lengthAdjust="spacingAndGlyphs">32.736</text>
<line x1="837" y1="271.5" x2="840.8" y2="271.5" stroke="#333" stroke-width="1"/>
<text x="843.3" y="275.4" textLength="35.7" lengthAdjust="spacingAndGlyphs">32.108</text>
<line x1="837" y1="301.5" x2="840.8" y2="301.5" stroke="#333" stroke-width="1"/>
<text x="843.3" y="305.4" textLength="35.7" lengthAdjust="spacingAndGlyphs">31.480</text>
<line x1="837" y1="331.5" x2="840.8" y2="331.5" stroke="#333" stroke-width="1"/>
<text x="843.3" y="335.4" textLength="35.7" lengthAdjust="spacingAndGlyphs">30.851</text>
<line x1="837" y1="361.5" x2="840.8" y2="361.5" stroke="#333" stroke-width="1"/>
<text x="843.3" y="365.4" textLength="35.7" lengthAdjust="spacingAndGlyphs">30.223</text>
<line x1="837" y1="391.5" x2="840.8" y2="391.5" stroke="#333" stroke-width="1"/>
<text x="843.3" y="395.4" textLength="35.7" lengthAdjust="spacingAndGlyphs">29.595</text>
<line x1="837" y1="421.5" x2="840.8" y2="421.5" stroke="#333" stroke-width="1"/>
<text x="843.3" y="425.4" textLength="35.7" lengthAdjust="spacingAndGlyphs">28.967</text>
<line x1="837" y1="451.5" x2="840.8" y2="451.5" stroke="#333" stroke-width="1"/>
<text x="843.3" y="455.4" textLength="35.7" lengthAdjust="spacingAndGlyphs">28.338</text>
<line x1="837" y1="481.5" x2="840.8" y2="481.5" stroke="#333" stroke-width="1"/>
<text x="843.3" y="485.4" textLength="35.7" lengthAdjust="spacingAndGlyphs">27.710</text>
<line x1="837" y1="511.5" x2="840.8" y2="511.5" stroke="#333" stroke-width="1"/>
<text x="843.3" y="515.4" textLength="35.7" lengthAdjust="spacingAndGlyphs">27.082</text>
<line x1="837" y1="551.5" x2="840.8" y2="551.5" stroke="#333" stroke-width="1"/>
<text x="843.3" y="555.4" textLength="29.2" lengthAdjust="spacingAndGlyphs">0.663</text>
<line x1="837" y1="581.5" x2="840.8" y2="581.5" stroke="#333" stroke-width="1"/>
<text x="843.3" y="585.4" textLength="29.2" lengthAdjust="spacingAndGlyphs">0.118</text>
<line x1="837" y1="611.5" x2="840.8" y2="611.5" stroke="#333" stroke-width="1"/>
<text x="843.3" y="615.4" textLength="33.4" lengthAdjust="spacingAndGlyphs">-0.427</text>
<line x1="837" y1="641.5" x2="840.8" y2="641.5" stroke="#333" stroke-width="1"/>
<text x="843.3" y="645.4" textLength="33.4" lengthAdjust="spacingAndGlyphs">-0.972</text>
</g>
<rect x="838" y="297.7" width="68.3" height="17.5" fill="#ee1b0b"/>
<line x1="838.5" y1="306.5" x2="842" y2="306.5" stroke="#ff9d94" stroke-width="1"/>
<text x="844" y="311" font-family="'Liberation Sans', sans-serif" font-size="12.5" fill="#fff" textLength="36" lengthAdjust="spacingAndGlyphs">31.363</text>
</svg>
<div class="t k" style="left:17.5px;top:101.6px">开:</div><div class="t r" style="left:37px;top:101.6px">31.152</div>
<div class="t k" style="left:89px;top:101.6px">高:</div><div class="t r" style="left:107.4px;top:101.6px">31.425</div>
<div class="t k" style="left:160.5px;top:101.6px">低:</div><div class="t r" style="left:178.7px;top:101.6px">30.855</div>
<div class="t k" style="left:231.5px;top:101.6px">收:</div><div class="t r" style="left:250px;top:101.6px">31.363</div>
<div class="t l m5" style="left:17.8px;top:119.8px">MA5:</div><div class="t m5" style="left:56.2px;top:119.8px">31.994</div>
<div class="t l m10" style="left:110px;top:119.8px">MA10:</div><div class="t m10" style="left:155.6px;top:119.8px">32.810</div>
<div class="t l m20" style="left:209px;top:119.8px">MA20:</div><div class="t m20" style="left:255px;top:119.8px">32.761</div>
<div class="t s c1" style="left:17.6px;top:525px">MACD:</div><div class="t s n c1" style="left:60px;top:525px">0.000</div>
<div class="t s c2" style="left:102.5px;top:525px;letter-spacing:-0.5px">DIFF:</div><div class="t s n c2" style="left:133.3px;top:525px">0.000</div>
<div class="t s c3" style="left:176.3px;top:525px;letter-spacing:-0.4px">DEA:</div><div class="t s n c3" style="left:206.3px;top:525px">0.000</div>
</body>
</html>
